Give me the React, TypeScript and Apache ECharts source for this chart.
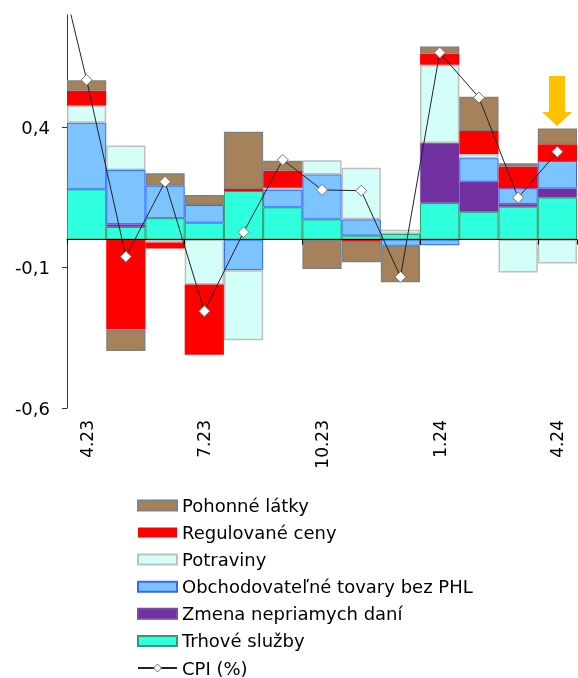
import React, { useEffect, useRef } from 'react';
import * as echarts from 'echarts';

const categories = ['4.23', '5.23', '6.23', '7.23', '8.23', '9.23', '10.23', '11.23', '12.23', '1.24', '2.24', '3.24', '4.24'];

const trhoveSluzby = [0.179, 0.045, 0.076, 0.060, 0.173, 0.115, 0.072, 0.014, 0.020, 0.130, 0.099, 0.117, 0.150];
const zmenaDani = [0, 0.010, 0, 0, 0, 0, 0, 0, 0, 0.214, 0.107, 0.010, 0.032];
const obchodovatelne = [0.237, 0.193, 0.116, 0.063, -0.109, 0.062, 0.160, 0.058, -0.022, -0.020, 0.084, 0.056, 0.098];
const potraviny = [0.062, 0.087, -0.010, -0.160, -0.250, 0.008, 0.051, 0.184, 0.015, 0.279, 0.015, -0.117, -0.085];
const regulovane = [0.052, -0.320, -0.022, -0.250, 0.007, 0.060, 0, -0.005, 0, 0.039, 0.082, 0.077, 0.060];
const pohonne = [0.038, -0.077, 0.044, 0.036, 0.204, 0.036, -0.105, -0.076, -0.130, 0.026, 0.122, 0.012, 0.056];

const cpiPrevious = 1.15; // 3.23, off the top of the chart
const cpi = [0.569, -0.061, 0.206, -0.255, 0.026, 0.284, 0.177, 0.174, -0.133, 0.666, 0.506, 0.149, 0.313];

const yTicks = [-0.6, -0.1, 0.4];

const barLegendNames = ['Pohonné látky', 'Regulované ceny', 'Potraviny', 'Obchodovateľné tovary bez PHL', 'Zmena nepriamych daní', 'Trhové služby'];
const lineLegendName = 'CPI (%)';

const FONT = "'DejaVu Sans', Verdana, sans-serif";

const nz = (arr: number[]) => arr.map((v) => (v === 0 ? null : v));

export default function App() {
  const ref = useRef<HTMLDivElement>(null);
  useEffect(() => {
    const chart = echarts.init(ref.current!, null, { renderer: 'svg' });
    const barBase = {
      type: 'bar',
      stack: 'total',
      xAxisIndex: 0,
      yAxisIndex: 0,
      barCategoryGap: '0%',
      z: 2,
    };
    const option: any = {
      animation: false,
      textStyle: { fontFamily: FONT },
      grid: { left: 67, right: 1, top: 15, bottom: 270, containLabel: false, outerBoundsMode: 'none' },
      legend: {
        orient: 'vertical',
        left: 137,
        top: 496.4,
        height: 230,
        padding: 0,
        itemWidth: 39,
        itemHeight: 10,
        itemGap: 9.1,
        selectedMode: false,
        textStyle: { fontSize: 18, lineHeight: 17, color: '#000', fontFamily: FONT },
        data: [
          ...barLegendNames.map((name) => ({ name, icon: 'rect' })),
          { name: lineLegendName, itemStyle: { color: '#fff', borderColor: '#666', borderWidth: 1 } },
        ],
      },
      xAxis: [
        {
          type: 'category',
          data: categories,
          position: 'bottom',
          boundaryGap: true,
          z: 5,
          axisLine: { show: true, onZero: true, lineStyle: { color: '#000', width: 1 } },
          axisTick: { show: true, interval: 2, length: 5, lineStyle: { color: '#000' } },
          axisLabel: { show: false },
          splitLine: { show: false },
        },
        {
          type: 'category',
          data: categories,
          position: 'bottom',
          axisLine: { show: false, onZero: false },
          axisTick: { show: false },
          splitLine: { show: false },
          axisLabel: { interval: 2, rotate: 90, margin: 12, fontSize: 17, color: '#000', fontFamily: FONT },
        },
        { type: 'value', min: 0, max: 13, show: false },
      ],
      yAxis: {
        type: 'value',
        min: -0.6,
        max: 0.8,
        interval: 0.5,
        splitLine: { show: false },
        axisLine: { show: true, lineStyle: { color: '#333', width: 1 } },
        axisTick: { show: true, length: 5, customValues: yTicks, lineStyle: { color: '#333' } },
        axisLabel: {
          customValues: yTicks,
          margin: 17,
          fontSize: 18,
          color: '#000',
          fontFamily: FONT,
          formatter: (v: number) => String(Math.round(v * 10) / 10).replace('.', ','),
        },
      },
      series: [
        { ...barBase, name: 'Trhové služby', data: nz(trhoveSluzby), itemStyle: { color: '#2EFFDC', borderColor: '#339966', borderWidth: 1 } },
        { ...barBase, name: 'Zmena nepriamych daní', data: nz(zmenaDani), itemStyle: { color: '#7030A0', borderColor: '#7A4AA8', borderWidth: 0.5 } },
        { ...barBase, name: 'Obchodovateľné tovary bez PHL', data: nz(obchodovatelne), itemStyle: { color: '#7CC4FF', borderColor: '#3366FF', borderWidth: 1 } },
        { ...barBase, name: 'Potraviny', data: nz(potraviny), itemStyle: { color: '#D4FFF8', borderColor: '#BFBFBF', borderWidth: 1.5 } },
        { ...barBase, name: 'Regulované ceny', data: nz(regulovane), itemStyle: { color: '#FF0000', borderWidth: 0 } },
        { ...barBase, name: 'Pohonné látky', data: nz(pohonne), itemStyle: { color: '#A6825A', borderColor: '#808080', borderWidth: 1.5 } },
        {
          type: 'line',
          name: lineLegendName,
          xAxisIndex: 2,
          yAxisIndex: 0,
          z: 6,
          clip: true,
          data: [[-0.5, cpiPrevious], ...cpi.map((v, i) => [i + 0.5, v])],
          symbol: 'diamond',
          symbolSize: 11,
          showAllSymbol: true,
          lineStyle: { color: '#222', width: 1 },
          itemStyle: { color: '#fff', borderColor: '#777', borderWidth: 1 },
        },
      ],
      graphic: [
        {
          type: 'polygon',
          shape: { points: [[549, 76], [565, 76], [565, 112], [572, 112], [557, 126], [542, 112], [549, 112]] },
          style: { fill: '#FFC000' },
          z: 10,
        },
      ],
    };
    chart.setOption(option);
    return () => chart.dispose();
  }, []);
  return <div ref={ref} style={{ position: 'fixed', left: 0, top: 0, width: 578, height: 678 }} />;
}
